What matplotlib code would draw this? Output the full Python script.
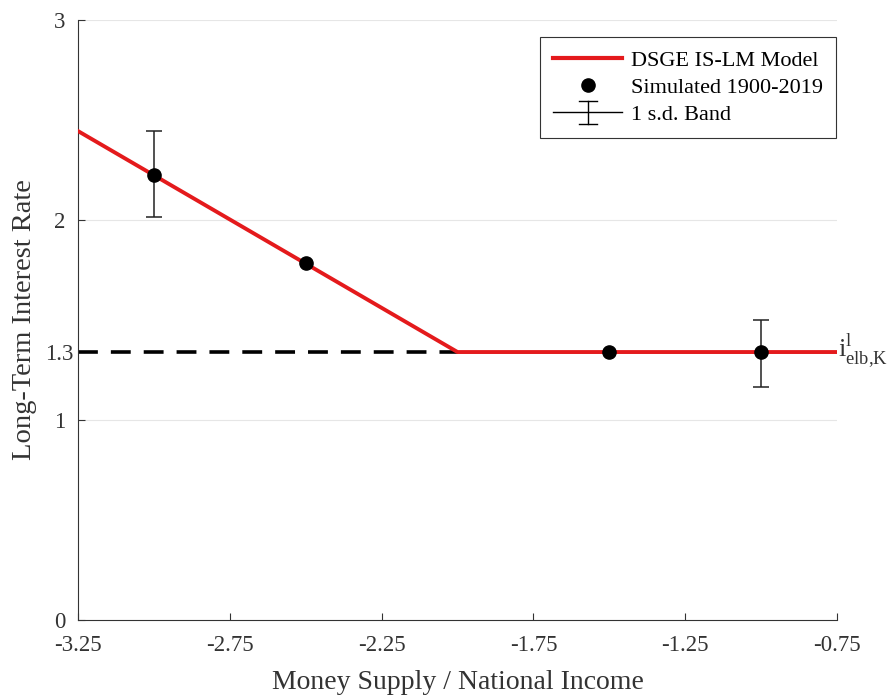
import numpy as np
import matplotlib.pyplot as plt
import matplotlib.transforms as mtransforms
from matplotlib.lines import Line2D
from matplotlib.legend_handler import HandlerBase

# model line (kinked at the effective lower bound)
model_x = [-3.25, -2.0, -0.75]
model_y = [2.445, 1.34, 1.34]

# simulated points and 1 s.d. bands
sim_x = [-3.0, -2.5, -1.5, -1.0]
sim_y = [2.225, 1.785, 1.34, 1.34]
sd_x = [-3.0, -1.0]
sd_y = [2.225, 1.34]
sd_lo = [0.21, 0.175]
sd_hi = [0.22, 0.16]

elb = 1.34
elb_x = [-3.25, -2.0]

xticks = [-3.25, -2.75, -2.25, -1.75, -1.25, -0.75]
yticks = [0, 1, elb, 2, 3]
ytick_labels = ['0', '1', '1.3', '2', '3']

plt.rcParams['font.family'] = ['Liberation Serif', 'DejaVu Serif']
plt.rcParams['mathtext.fontset'] = 'custom'
plt.rcParams['mathtext.rm'] = 'Liberation Serif'

txt = '#333333'


class HandlerBand(HandlerBase):
    # horizontal line crossed by an error bar with caps
    def create_artists(self, legend, orig_handle, xdescent, ydescent,
                       width, height, fontsize, trans):
        y = height / 2 - ydescent
        xc = width / 2 - xdescent
        h = 0.75 * height
        c = 6.5
        kw = dict(color='black', lw=1, transform=trans)
        return [Line2D([-xdescent, width - xdescent], [y, y], **kw),
                Line2D([xc, xc], [y - h, y + h], **kw),
                Line2D([xc - c, xc + c], [y + h, y + h], **kw),
                Line2D([xc - c, xc + c], [y - h, y - h], **kw)]


fig = plt.figure(figsize=(8.91, 6.98), dpi=100)
ax = fig.add_axes([0.0875, 0.1117, 0.852, 0.8596])

for yv in [1, 2, 3]:
    ax.axhline(yv, color='#e6e6e6', lw=0.8, zorder=0)

ax.plot(elb_x, [elb, elb], color='black', lw=2.6, ls=(0, (5.5, 3.6)), zorder=2)
ax.plot(model_x, model_y, color='#e41a1c', lw=2.8, zorder=3)
ax.errorbar(sd_x, sd_y, yerr=[sd_lo, sd_hi], fmt='none', ecolor='#222222',
            elinewidth=1.1, capsize=5.5, capthick=1.1, zorder=4)
ax.plot(sim_x, sim_y, 'o', color='black', ms=9.5, zorder=5)

ax.text(-0.748, elb + 0.005, r'$\mathrm{i}^{\mathrm{l}}_{\mathrm{elb{,}K}}$', fontsize=19,
        va='center', ha='left', color=txt)

ax.set_xlim(-3.25, -0.75)
ax.set_ylim(0, 3)
ax.set_xticks(xticks)
ax.set_xticklabels([f'{v:g}' for v in xticks])
ax.set_yticks(yticks)
ax.set_yticklabels(ytick_labels)
ax.tick_params(direction='in', length=5, labelsize=16.5, colors=txt)
ax.tick_params(axis='x', pad=11)
ax.tick_params(axis='y', pad=9)
# the 1.3 label sits closer to the axis
lab = ax.get_yticklabels()[2]
lab.set_transform(lab.get_transform() + mtransforms.ScaledTranslation(0.08, 0, fig.dpi_scale_trans))
ax.spines['top'].set_visible(False)
ax.spines['right'].set_visible(False)
for s in ['left', 'bottom']:
    ax.spines[s].set_color(txt)

ax.set_xlabel('Money Supply / National Income', fontsize=20, color=txt)
ax.xaxis.set_label_coords(0.5, -0.084)
ax.set_ylabel('Long-Term Interest Rate', fontsize=20.5, color=txt)
ax.yaxis.set_label_coords(-0.054, 0.5)

handles = [
    Line2D([], [], color='#e41a1c', lw=3),
    Line2D([], [], marker='o', color='black', ls='none', ms=9.5),
    'band',
]
leg = ax.legend(handles, ['DSGE IS-LM Model', 'Simulated 1900-2019', '1 s.d. Band'],
                loc='upper right', bbox_to_anchor=(0.999, 0.972), fontsize=16,
                fancybox=False, edgecolor=txt, framealpha=1,
                handlelength=3.1, handletextpad=0.4, borderpad=0.6,
                labelspacing=0.3, borderaxespad=0.0,
                handler_map={str: HandlerBand()})
leg.get_frame().set_linewidth(0.8)

fig.savefig('out.png', dpi=100)
